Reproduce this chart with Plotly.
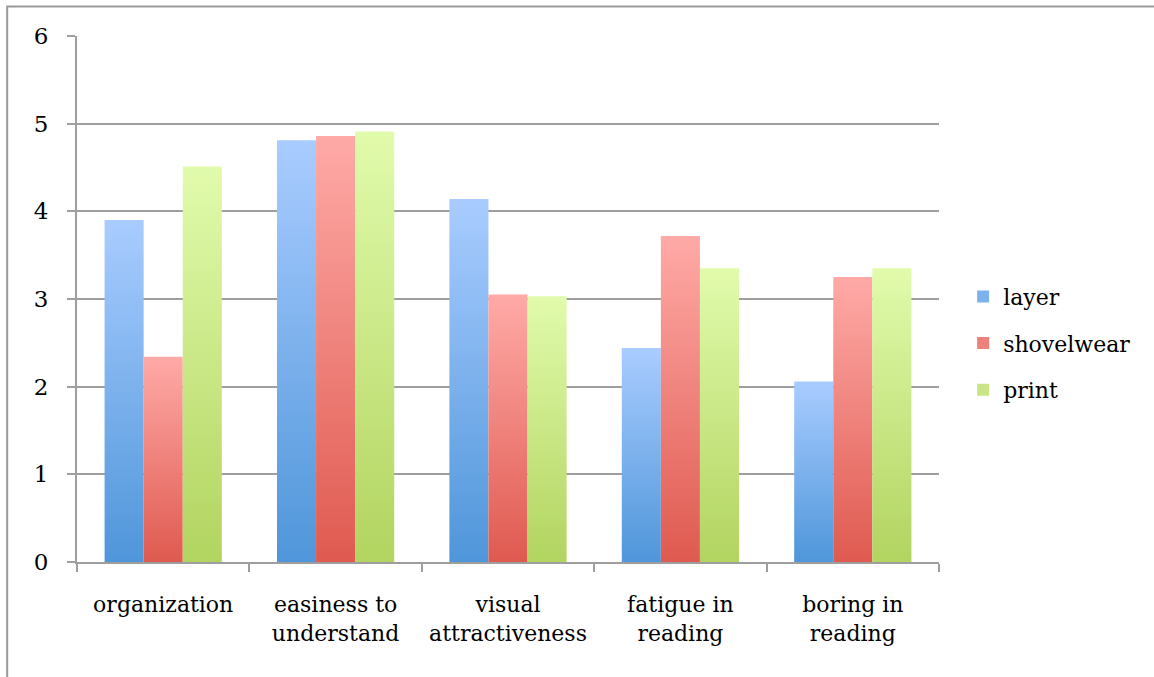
import plotly.graph_objects as go

categories = ["organization", "easiness to<br>understand", "visual<br>attractiveness",
              "fatigue in<br>reading", "boring in<br>reading"]
series_names = ["layer", "shovelwear", "print"]
layer = [3.90, 4.81, 4.14, 2.44, 2.06]
shovelwear = [2.34, 4.86, 3.05, 3.72, 3.25]
print_vals = [4.51, 4.91, 3.03, 3.35, 3.35]
series_values = [layer, shovelwear, print_vals]

# gradient colours per series: (bottom, top), plus a mid tone for the legend key
gradients = [("#4f96da", "#a9ccff"), ("#df5a50", "#ffaaa7"), ("#b2d460", "#e1fbac")]
legend_colors = ["#7cb1ec", "#ee827b", "#c9e585"]

group_width = 0.68
bar_w = group_width / len(series_names)
FONT = "DejaVu Serif"

fig = go.Figure()
for j, (name, vals) in enumerate(zip(series_names, series_values)):
    bottom, top = gradients[j]
    for i, v in enumerate(vals):
        x0 = i - group_width / 2 + j * bar_w
        x1 = x0 + bar_w
        fig.add_trace(go.Scatter(
            x=[x0, x1, x1, x0, x0], y=[0, 0, v, v, 0],
            mode="none", fill="toself",
            fillcolor=bottom,
            fillgradient=dict(type="vertical", colorscale=[[0, bottom], [1, top]]),
            name=name, legendgroup=name, showlegend=False,
            hoverinfo="skip",
        ))
    # square legend key for the series
    fig.add_trace(go.Bar(
        x=[None], y=[None], name=name, legendgroup=name,
        marker=dict(color=legend_colors[j], line=dict(width=0)),
        showlegend=True, hoverinfo="skip",
    ))

grid_col = "#9e9e9e"
fig.update_layout(
    width=1154, height=677,
    margin=dict(l=77, r=215, t=36, b=115, autoexpand=False),
    paper_bgcolor="white", plot_bgcolor="white",
    font=dict(family=FONT, size=22, color="black"),
    showlegend=True,
    legend=dict(x=1.028, y=0.416, xanchor="left", yanchor="middle",
                font=dict(size=22), tracegroupgap=15, bgcolor="rgba(0,0,0,0)"),
    xaxis=dict(
        range=[-0.5, 4.5], showgrid=False, zeroline=False,
        showline=True, linecolor=grid_col, linewidth=2,
        tickmode="array", tickvals=list(range(len(categories))), ticktext=categories,
        ticks="", ticklabelstandoff=22,
        minor=dict(tickmode="array", tickvals=[k - 0.5 for k in range(len(categories) + 1)],
                   ticks="outside", ticklen=8, tickwidth=2, tickcolor=grid_col),
    ),
    yaxis=dict(
        range=[0, 6], dtick=1, showgrid=True, gridcolor=grid_col, gridwidth=2,
        zeroline=False, showline=True, linecolor=grid_col, linewidth=2,
        ticks="outside", ticklen=8, tickwidth=2, tickcolor=grid_col,
        ticklabelstandoff=14, tickfont=dict(size=23),
    ),
    shapes=[dict(type="rect", xref="paper", yref="paper",
                 x0=-0.081, x1=1.3, y0=-0.3, y1=1.056,
                 line=dict(color="#9a9a9a", width=2), layer="below")],
)

fig.write_html("out.html")
